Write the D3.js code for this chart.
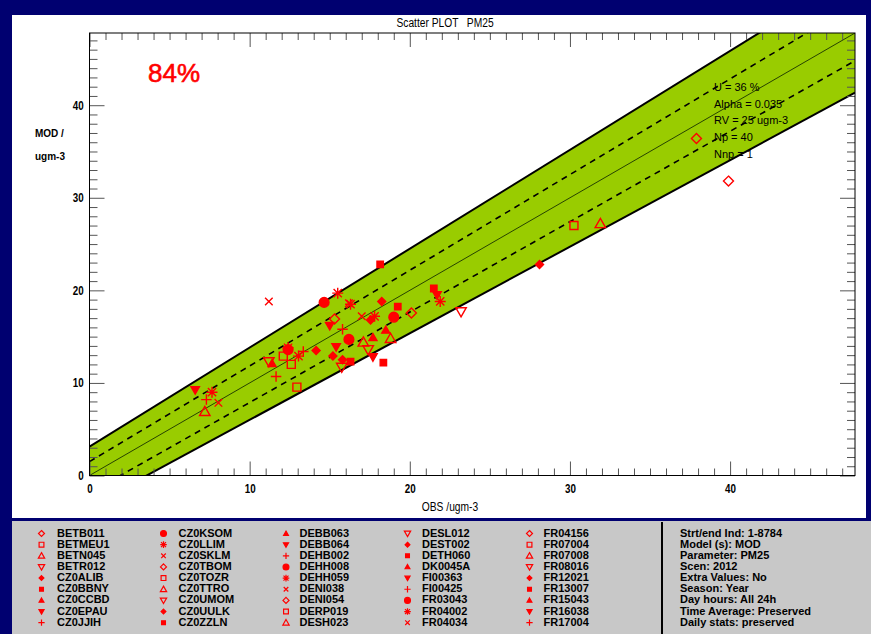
<!DOCTYPE html>
<html>
<head>
<meta charset="utf-8">
<script src="https://cdn.jsdelivr.net/npm/d3@7"></script>
<style>
  html, body { margin: 0; padding: 0; background: #000070; }
  svg { display: block; }
  .cond { font-family: "Liberation Sans Narrow", "Liberation Sans", Arial, sans-serif; }
  .sans { font-family: "Liberation Sans", Arial, sans-serif; }
</style>
</head>
<body>
<svg id="chart" width="871" height="634"></svg>
<script>
// ---- Stations shown in the legend (symbol follows the station's position in the list) ----
const stations = [
  "BETB011", "BETMEU1", "BETN045", "BETR012", "CZ0ALIB", "CZ0BBNY", "CZ0CCBD", "CZ0EPAU", "CZ0JJIH",
  "CZ0KSOM", "CZ0LLIM", "CZ0SKLM", "CZ0TBOM", "CZ0TOZR", "CZ0TTRO", "CZ0UMOM", "CZ0UULK", "CZ0ZZLN",
  "DEBB063", "DEBB064", "DEHB002", "DEHH008", "DEHH059", "DENI038", "DENI054", "DERP019", "DESH023",
  "DESL012", "DEST002", "DETH060", "DK0045A", "FI00363", "FI00425", "FR03043", "FR04002", "FR04034",
  "FR04156", "FR07004", "FR07008", "FR08016", "FR12021", "FR13007", "FR15043", "FR16038", "FR17004"
];
const symbolCycle = [
  "openDiamond", "openSquare", "openTriangle", "openInvTriangle",
  "diamond", "square", "triangle", "invTriangle",
  "plus", "circle", "asterisk", "cross"
];

// ---- Yearly means: observed, modelled, symbol index ----
const pointObs = [
  37.9, 39.9, 20.1, 15.3,
  30.25, 12.1, 12.6, 12.95,
  31.9, 18.8, 17.1, 7.2,
  23.2, 15.75, 17.4, 11.2,
  28.1, 18.25, 17.55, 14.15, 15.2, 15.8,
  18.15, 19.25, 21.5, 16.3, 18.35,
  18.5, 17.7, 11.4,
  21.7, 15.0, 15.4, 17.7, 6.6,
  15.8, 11.65, 7.3, 13.35,
  14.65, 19.0, 16.2, 12.4,
  15.5, 17.8, 21.9, 12.4, 13.05, 7.65, 16.3,
  11.2, 17.0, 8.05, 16.2
];
const pointMod = [
  36.4, 31.8, 17.55, 16.9,
  27.0, 12.9, 12.0, 9.55,
  27.2, 14.8, 14.4, 6.9,
  17.7, 11.7, 13.6, 12.3,
  22.8, 18.8, 16.8, 13.5, 12.9, 12.5,
  22.8, 18.25, 20.2, 12.3, 12.2,
  15.7, 14.9, 12.1,
  19.5, 16.2, 13.9, 12.8, 9.25,
  15.8, 10.7, 8.2, 13.4,
  18.7, 17.1, 14.7, 13.6,
  19.7, 17.2, 18.8, 13.8, 12.9, 9.0, 18.5,
  18.8, 17.2, 7.85, 18.6
];
const pointSym = [
  0, 0, 0, 0,
  1, 1, 1, 1,
  2, 2, 2, 2,
  3, 3, 3, 3,
  4, 4, 4, 4, 4, 4,
  5, 5, 5, 5, 5,
  6, 6, 6,
  7, 7, 7, 7, 7,
  8, 8, 8, 8,
  9, 9, 9, 9,
  10, 10, 10, 10, 10, 10, 10,
  11, 11, 11, 11
];

// ---- Axis range and tick labels ----
const axisMax = 47.8;
const majorTicks = [0, 10, 20, 30, 40];

// ---- Acceptance band (modelled value at obs = 0 and obs = axisMax) ----
const bandObs     = [0, 47.8];
const bandOuterHi = [3.13, 54.2];
const bandInnerHi = [1.5, 50.9];
const bandInnerLo = [-1.885, 44.8];
const bandOuterLo = [-3.34, 41.36];

// ---- Texts ----
const titleText = "Scatter PLOT   PM25";
const xTitle = "OBS /ugm-3";
const yTitle = ["MOD /", "ugm-3"];
const scoreText = "84%";
const statLines = ["U = 36 %", "Alpha = 0.035", "RV = 25 ugm-3", "Np = 40", "Nnp = 1"];
const infoLines = [
  "Strt/end Ind: 1-8784", "Model (s): MOD", "Parameter: PM25", "Scen: 2012",
  "Extra Values: No", "Season: Year", "Day hours: All 24h",
  "Time Average: Preserved", "Daily stats: preserved"
];

const RED = "#ff0000";
const GREEN = "#99cc00";
const NARROW = 0.82;

const svg = d3.select("#chart");

// page panels
svg.append("rect").attr("x", 0).attr("y", 0).attr("width", 871).attr("height", 634).attr("fill", "#000070");
svg.append("rect").attr("x", 12).attr("y", 15).attr("width", 854).attr("height", 503).attr("fill", "#ffffff");
svg.append("rect").attr("x", 12).attr("y", 521).attr("width", 859).attr("height", 113).attr("fill", "#c8c8c8");

const plot = { left: 89.5, right: 855, top: 33, bottom: 475.5 };
const x = d3.scaleLinear().domain([0, axisMax]).range([plot.left, plot.right]);
const y = d3.scaleLinear().domain([0, axisMax]).range([plot.bottom, plot.top]);

svg.append("defs").append("clipPath").attr("id", "plotClip")
  .append("rect").attr("x", plot.left).attr("y", plot.top)
  .attr("width", plot.right - plot.left).attr("height", plot.bottom - plot.top);

const g = svg.append("g").attr("clip-path", "url(#plotClip)");

// green band between the outer limits
const bandArea = d3.area()
  .x((d, i) => x(bandObs[i]))
  .y0((d, i) => y(bandOuterLo[i]))
  .y1((d, i) => y(bandOuterHi[i]));
g.append("path").attr("d", bandArea(bandObs)).attr("fill", GREEN);

const lineOf = arr => d3.line().x((d, i) => x(bandObs[i])).y((d, i) => y(arr[i]))(bandObs);
[bandOuterHi, bandOuterLo].forEach(arr => {
  g.append("path").attr("d", lineOf(arr)).attr("fill", "none").attr("stroke", "#000").attr("stroke-width", 2);
});
[bandInnerHi, bandInnerLo].forEach(arr => {
  g.append("path").attr("d", lineOf(arr)).attr("fill", "none").attr("stroke", "#000")
    .attr("stroke-width", 1.6).attr("stroke-dasharray", "6,5");
});
g.append("path").attr("d", lineOf(bandObs)).attr("fill", "none").attr("stroke", "#1a3300").attr("stroke-width", 0.9);

// axes: minor ticks every unit, major ticks every ten
const minorVals = d3.range(0, Math.floor(axisMax) + 1).filter(v => v % 10 !== 0);
function styleAxis(sel) {
  sel.select(".domain").remove();
  sel.selectAll(".tick line").attr("stroke", "#555").attr("stroke-width", 1);
}
const axisFont = sel => sel.selectAll("text")
  .attr("class", "cond").attr("font-size", 12).attr("font-weight", "bold").attr("fill", "#000")
  .attr("transform", `scale(${NARROW},1)`);

svg.append("g").attr("transform", `translate(0,${plot.bottom})`)
  .call(d3.axisBottom(x).tickValues(minorVals).tickSize(-7).tickFormat("")).call(styleAxis);
svg.append("g").attr("transform", `translate(0,${plot.bottom})`)
  .call(d3.axisBottom(x).tickValues(majorTicks).tickSize(-14).tickPadding(9).tickFormat(d3.format("d")))
  .call(styleAxis).call(axisFont);
svg.append("g").attr("transform", `translate(0,${plot.top})`)
  .call(d3.axisTop(x).tickValues(minorVals).tickSize(-7).tickFormat("")).call(styleAxis);
svg.append("g").attr("transform", `translate(0,${plot.top})`)
  .call(d3.axisTop(x).tickValues(majorTicks).tickSize(-14).tickFormat("")).call(styleAxis);

svg.append("g").attr("transform", `translate(${plot.left},0)`)
  .call(d3.axisLeft(y).tickValues(minorVals).tickSize(-8).tickFormat("")).call(styleAxis);
svg.append("g").attr("transform", `translate(${plot.left},0)`)
  .call(d3.axisLeft(y).tickValues(majorTicks).tickSize(-15).tickPadding(7).tickFormat(d3.format("d")))
  .call(styleAxis).call(axisFont);
svg.append("g").attr("transform", `translate(${plot.right},0)`)
  .call(d3.axisRight(y).tickValues(minorVals).tickSize(-8).tickFormat("")).call(styleAxis);
svg.append("g").attr("transform", `translate(${plot.right},0)`)
  .call(d3.axisRight(y).tickValues(majorTicks).tickSize(-15).tickFormat("")).call(styleAxis);

svg.append("rect").attr("x", plot.left).attr("y", plot.top)
  .attr("width", plot.right - plot.left).attr("height", plot.bottom - plot.top)
  .attr("fill", "none").attr("stroke", "#000").attr("stroke-width", 1);

// marker shapes, r = half size
function symbolPath(name, r) {
  const p = d3.path();
  switch (name) {
    case "openDiamond": case "diamond":
      p.moveTo(0, -r); p.lineTo(r, 0); p.lineTo(0, r); p.lineTo(-r, 0); p.closePath(); break;
    case "openSquare": case "square":
      p.rect(-r * 0.8, -r * 0.8, r * 1.6, r * 1.6); break;
    case "openTriangle": case "triangle":
      p.moveTo(0, -r); p.lineTo(r, r * 0.75); p.lineTo(-r, r * 0.75); p.closePath(); break;
    case "openInvTriangle": case "invTriangle":
      p.moveTo(0, r); p.lineTo(r, -r * 0.75); p.lineTo(-r, -r * 0.75); p.closePath(); break;
    case "circle":
      p.arc(0, 0, r * 0.85, 0, 2 * Math.PI); break;
    case "plus":
      p.moveTo(-r, 0); p.lineTo(r, 0); p.moveTo(0, -r); p.lineTo(0, r); break;
    case "cross":
      p.moveTo(-r * 0.8, -r * 0.8); p.lineTo(r * 0.8, r * 0.8);
      p.moveTo(r * 0.8, -r * 0.8); p.lineTo(-r * 0.8, r * 0.8); break;
    case "asterisk":
      p.moveTo(-r, 0); p.lineTo(r, 0); p.moveTo(0, -r); p.lineTo(0, r);
      p.moveTo(-r * 0.75, -r * 0.75); p.lineTo(r * 0.75, r * 0.75);
      p.moveTo(r * 0.75, -r * 0.75); p.lineTo(-r * 0.75, r * 0.75); break;
  }
  return p.toString();
}
const isFilled = name => ["diamond", "square", "triangle", "invTriangle", "circle"].includes(name);
const sizeScale = { openDiamond: 1, openSquare: 1, openTriangle: 1.05, openInvTriangle: 1.05,
  diamond: 0.8, square: 0.8, triangle: 0.8, invTriangle: 0.85, plus: 1.05, circle: 1.15, asterisk: 1.1, cross: 0.95 };

function drawMarker(sel, name, cx, cy, r, sw) {
  sel.append("path")
    .attr("transform", `translate(${cx},${cy})`)
    .attr("d", symbolPath(name, r * sizeScale[name]))
    .attr("fill", isFilled(name) ? RED : "none")
    .attr("stroke", RED)
    .attr("stroke-width", sw)
    .attr("stroke-linejoin", "miter");
}

const pts = svg.append("g").attr("clip-path", "url(#plotClip)");
pointObs.forEach((o, i) => {
  drawMarker(pts, symbolCycle[pointSym[i]], x(o), y(pointMod[i]), 5, 1.4);
});

// texts in the plot area
const narrowText = (px, py, txt, size) => svg.append("g")
  .attr("transform", `translate(${px},${py}) scale(${NARROW},1)`)
  .append("text").attr("class", "cond").attr("text-anchor", "middle")
  .attr("font-size", size).attr("fill", "#000")
  .style("white-space", "pre").text(txt);
narrowText(445, 27, titleText, 12.5);
narrowText(450, 511, xTitle, 12.5);

yTitle.forEach((t, i) => {
  svg.append("text").attr("class", "sans").attr("x", 35).attr("y", 137 + i * 23)
    .attr("font-size", 10).attr("font-weight", "bold").attr("fill", "#000").text(t);
});
svg.append("text").attr("class", "sans").attr("x", 148).attr("y", 82)
  .attr("font-size", 26).attr("fill", RED).attr("stroke", RED).attr("stroke-width", 0.6)
  .text(scoreText);
statLines.forEach((t, i) => {
  svg.append("text").attr("class", "sans").attr("x", 714).attr("y", 91 + i * 16.7)
    .attr("font-size", 11).attr("fill", "#000").text(t);
});

// legend of stations
const legendCols = [
  { sx: 41.5, tx: 57 }, { sx: 163.5, tx: 178.5 }, { sx: 286, tx: 299.5 },
  { sx: 407.5, tx: 422 }, { sx: 529.5, tx: 543.5 }
];
const leg = svg.append("g");
stations.forEach((name, i) => {
  const col = legendCols[Math.floor(i / 9)];
  const cy = 532.5 + (i % 9) * 11.15;
  drawMarker(leg, symbolCycle[i % symbolCycle.length], col.sx, cy + 1, 3, 1.2);
  leg.append("text").attr("class", "sans").attr("x", col.tx).attr("y", cy + 4)
    .attr("font-size", 11).attr("font-weight", "bold").attr("fill", "#000").text(name);
});

// run info box
svg.append("line").attr("x1", 662).attr("x2", 662).attr("y1", 522).attr("y2", 634)
  .attr("stroke", "#000").attr("stroke-width", 2);
infoLines.forEach((t, i) => {
  svg.append("text").attr("class", "sans").attr("x", 680).attr("y", 536.5 + i * 11.15)
    .attr("font-size", 11).attr("font-weight", "bold").attr("fill", "#000").text(t);
});
</script>
</body>
</html>
